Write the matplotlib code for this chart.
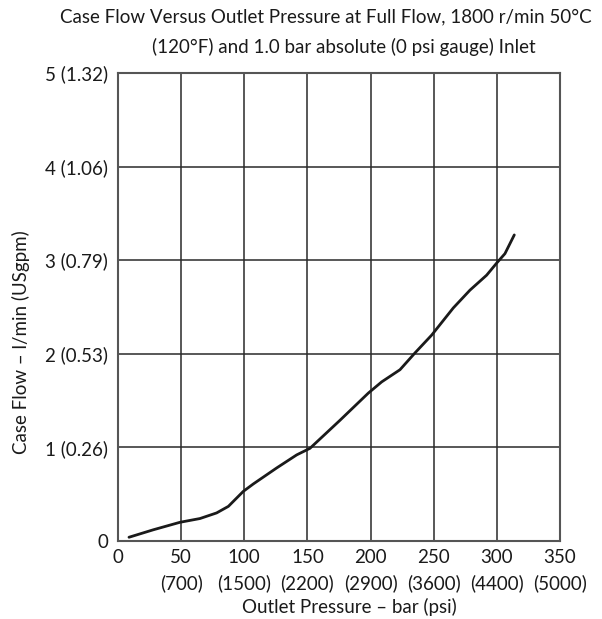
import matplotlib
matplotlib.use("Agg")
import matplotlib.pyplot as plt

# curve (bar, l/min)
pressure_bar = [8.7, 28, 49.1, 64.9, 78.1, 87.4, 99.2, 107.2, 125.6, 141.5,
                152, 175.8, 198.2, 208.8, 223.3, 235.2, 248.4, 265.5, 278.7,
                291.9, 299.9, 306.4, 313.8]
case_flow = [0.04, 0.12, 0.20, 0.24, 0.30, 0.37, 0.53, 0.61, 0.78, 0.92,
             0.99, 1.29, 1.58, 1.70, 1.83, 2.01, 2.20, 2.49, 2.68,
             2.84, 2.97, 3.07, 3.27]

x_ticks = [0, 50, 100, 150, 200, 250, 300, 350]
x_labels = ["0", "50\n(700)", "100\n(1500)", "150\n(2200)", "200\n(2900)",
            "250\n(3600)", "300\n(4400)", "350\n(5000)"]
y_ticks = [0, 1, 2, 3, 4, 5]
y_labels = ["0", "1 (0.26)", "2 (0.53)", "3 (0.79)", "4 (1.06)", "5 (1.32)"]

title_lines = ["Case Flow Versus Outlet Pressure at Full Flow, 1800 r/min 50°C",
               "(120°F) and 1.0 bar absolute (0 psi gauge) Inlet"]

plt.rcParams["font.family"] = ["Lato", "DejaVu Sans"]
ink = "#1a1a1a"
W, H = 602, 619

fig = plt.figure(figsize=(W / 100, H / 100), dpi=100)
ax = fig.add_axes([118 / W, 1 - 541 / H, 442 / W, 468 / H])

ax.plot(pressure_bar, case_flow, color=ink, lw=2.0, solid_joinstyle="round",
        solid_capstyle="round")
ax.set_xlim(0, 350)
ax.set_ylim(0, 5)
ax.set_xticks(x_ticks)
ax.set_xticklabels(x_labels, fontsize=13.5, linespacing=1.5)
ax.set_yticks(y_ticks)
ax.set_yticklabels(y_labels, fontsize=13.5)
ax.tick_params(axis="x", length=0, pad=6, colors=ink)
ax.tick_params(axis="y", length=0, pad=7, colors=ink)
ax.grid(True, color="#2a2a2a", lw=1.1)
for s in ax.spines.values():
    s.set_color("#555555")
    s.set_linewidth(1.5)

fig.text(326 / W, 1 - 17 / H, title_lines[0], ha="center", va="center",
         fontsize=13.5, color=ink)
fig.text(344 / W, 1 - 47 / H, title_lines[1], ha="center", va="center",
         fontsize=13.5, color=ink)
fig.text(349 / W, 1 - 607 / H, "Outlet Pressure – bar (psi)",
         ha="center", va="center", fontsize=13.5, color=ink)
fig.text(21 / W, 1 - 342 / H, "Case Flow – l/min (USgpm)", rotation=90,
         ha="center", va="center", fontsize=13.5, color=ink)

fig.savefig("out.png", dpi=100)
